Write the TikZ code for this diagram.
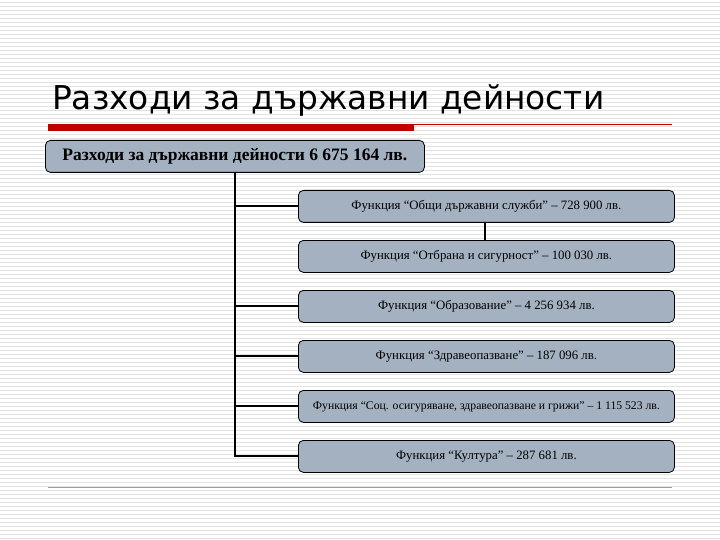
\documentclass[tikz,border=0pt]{standalone}
\usepackage{fontspec}
\setmainfont{Liberation Serif}
\newfontfamily\titlefont{DejaVu Sans}
\begin{document}
\begin{tikzpicture}[x=1pt,y=-1pt,
  box/.style={draw=black,fill=boxfill,rounded corners=5pt,line width=0.8pt,inner sep=0pt},
  conn/.style={line width=2pt,black}]
\definecolor{boxfill}{HTML}{A3B1C1}
\definecolor{bgline}{HTML}{E2E2E2}
\definecolor{redbar}{HTML}{C00000}
\useasboundingbox (0,0) rectangle (720,540);
\fill[white] (0,0) rectangle (720,540);
\foreach \i in {0,...,134} {\draw[bgline,line width=0.5pt] (0,{\i*4+2}) -- (720,{\i*4+2});}
\node[anchor=base west,inner sep=0pt,font=\titlefont\fontsize{32.8}{33}\selectfont] (title) at (52,110) {Разходи за държавни дейности};
\fill[redbar] (48,124) rectangle (414,131);
\draw[redbar,line width=0.6pt] (414,124.5) -- (672,124.5);
\draw[redbar!50,line width=0.8pt] (48,487) -- (672,487);
\node[box,minimum width=379pt,minimum height=32pt,anchor=north west,font=\bfseries\fontsize{17.5}{17.5}\selectfont] (top) at (45,140) {Разходи за държавни дейности 6 675 164 лв.};
\foreach \n/\y/\t/\s in {
 f1/190/{Функция “Общи държавни служби” – 728 900 лв.}/12.8,
 f2/240/{Функция “Отбрана и сигурност” – 100 030 лв.}/12.8,
 f3/290/{Функция “Образование” – 4 256 934 лв.}/12.8,
 f4/340/{Функция “Здравеопазване” – 187 096 лв.}/12.8,
 f5/390/{Функция “Соц. осигуряване, здравеопазване и грижи” – 1 115 523 лв.}/11.7,
 f6/440/{Функция “Култура” – 287 681 лв.}/12.8}
 {\node[box,minimum width=376pt,minimum height=32pt,anchor=north west,font=\fontsize{\s}{\s}\selectfont] (\n) at (298,\y) {\t};}
\coordinate (vt) at (235,172);
\coordinate (vb) at (235,457);
\draw[conn] (vt) -- (vb);
\foreach \n in {f1,f3,f4,f5,f6} {\draw[conn] (vt |- \n.west) -- (\n.west);}
\draw[conn] (f1.south -| 485,0) -- (f2.north -| 485,0);
\end{tikzpicture}
\end{document}
